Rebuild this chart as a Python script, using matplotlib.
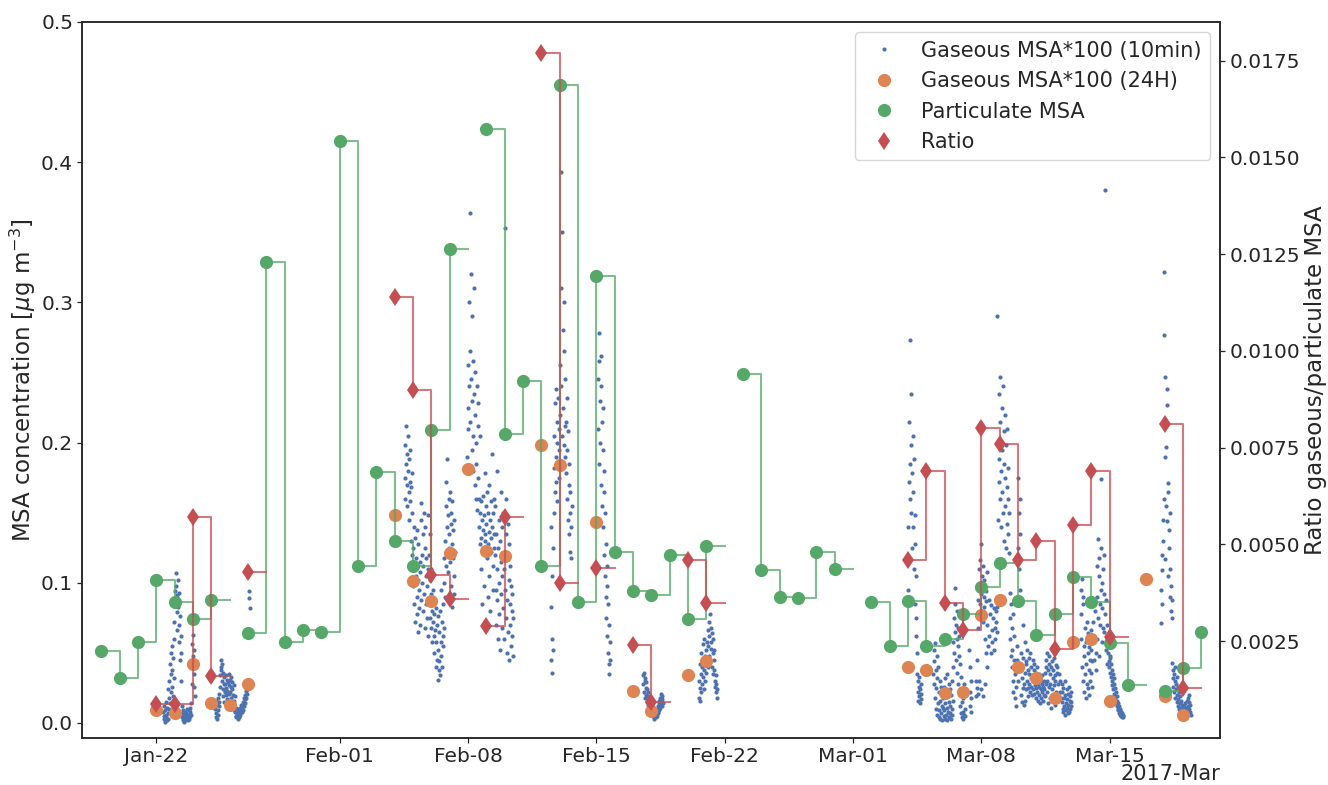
import numpy as np
import pandas as pd
import matplotlib
matplotlib.use('Agg')
import matplotlib.pyplot as plt
import matplotlib.dates as mdates

# seaborn "deep" colours
c_blue = '#4C72B0'
c_orange = '#DD8452'
c_green = '#55A868'
c_red = '#C44E52'
c_text = '#262626'

plt.rcParams.update({
    'font.family': 'DejaVu Sans',
    'font.size': 15,
    'text.color': c_text,
    'axes.labelcolor': c_text,
    'axes.labelsize': 16.5,
    'axes.edgecolor': c_text,
    'axes.linewidth': 1.1,
    'xtick.color': c_text,
    'ytick.color': c_text,
    'xtick.labelsize': 14.5,
    'ytick.labelsize': 14.5,
    'xtick.major.size': 3.3,
    'ytick.major.size': 3.3,
    'xtick.major.pad': 3.0,
    'ytick.major.pad': 3.0,
    'xtick.major.width': 0.9,
    'ytick.major.width': 0.9,
    'legend.fontsize': 15,
})

# ---- daily values, 2017-01-19 .. 2017-03-20 ----
nan = np.nan
days = pd.date_range('2017-01-19', '2017-03-20', freq='D')

particulate_msa = [
    # Jan 19 - Jan 31
    0.051, 0.032, 0.058, 0.102, 0.086, 0.074, 0.088, nan, 0.064, 0.329, 0.058, 0.066, 0.065,
    # Feb 1 - Feb 28
    0.415, 0.112, 0.179, 0.130, 0.112, 0.209, 0.338, nan, 0.424, 0.206, 0.244, 0.112, 0.455, 0.086,
    0.319, 0.122, 0.094, 0.091, 0.120, 0.074, 0.126, nan, 0.249, 0.109, 0.090, 0.089, 0.122, 0.110,
    # Mar 1 - Mar 20
    nan, 0.086, 0.055, 0.087, 0.055, 0.060, 0.078, 0.097, 0.114, 0.087, 0.063, 0.078, 0.104, 0.086,
    0.057, 0.027, nan, 0.023, 0.039, 0.065,
]

gaseous_24h = [
    nan, nan, nan, 0.0093, 0.0073, 0.042, 0.0145, 0.0126, 0.0276, nan, nan, nan, nan,
    nan, nan, nan, 0.148, 0.101, 0.087, 0.1215, 0.181, 0.123, 0.119, nan, 0.198, 0.184, nan,
    0.143, nan, 0.023, 0.0087, nan, 0.034, 0.044, nan, nan, nan, nan, nan, nan, nan,
    nan, nan, nan, 0.040, 0.038, 0.0216, 0.022, 0.077, 0.0875, 0.040, 0.032, 0.018, 0.058, 0.060,
    0.0155, nan, 0.103, 0.019, 0.006, nan,
]

ratio = [
    nan, nan, nan, 0.00088, 0.00088, 0.0057, 0.0016, nan, 0.0043, nan, nan, nan, nan,
    nan, nan, nan, 0.0114, 0.0090, 0.0042, 0.0036, nan, 0.0029, 0.0057, nan, 0.0177, 0.0040, nan,
    0.0044, nan, 0.0024, 0.00092, nan, 0.0046, 0.0035, nan, nan, nan, nan, nan, nan, nan,
    nan, nan, nan, 0.0046, 0.0069, 0.0035, 0.0028, 0.0080, 0.0076, 0.0046, 0.0051, 0.0023, 0.0055, 0.0069,
    0.0026, nan, nan, 0.0081, 0.0013, nan,
]

# ---- gaseous MSA*100, 30-min values per measurement period ----
gas_jan22 = [
    0.008, 0.003, 0.012, 0.005, 0.001, 0.009, 0.004, 0.015, 0.006, 0.002, 0.011, 0.007, 0.024, 0.003, 0.018, 0.010,
    0.030, 0.014, 0.042, 0.022, 0.035, 0.050, 0.026, 0.038, 0.055, 0.019, 0.046, 0.032,
    0.060, 0.072, 0.085, 0.094, 0.107, 0.098, 0.088, 0.079, 0.091, 0.066,
    0.102, 0.083, 0.070, 0.093, 0.058, 0.076, 0.045, 0.062, 0.030, 0.050,
    0.012, 0.004, 0.007, 0.002, 0.009, 0.003, 0.006, 0.001, 0.005, 0.008, 0.002, 0.004, 0.007,
    0.003, 0.010, 0.005, 0.002, 0.006, 0.004, 0.009, 0.003, 0.011, 0.005, 0.008, 0.014, 0.006,
    0.028, 0.041, 0.056, 0.063, 0.048, 0.035, 0.052, 0.026, 0.019,
]
gas_jan25 = [
    0.010, 0.004, 0.016, 0.007, 0.013, 0.003, 0.009, 0.018, 0.006, 0.012, 0.021, 0.015,
    0.026, 0.034, 0.040, 0.045, 0.038, 0.030, 0.042, 0.024, 0.036, 0.019, 0.033, 0.028, 0.015, 0.022,
    0.028, 0.020, 0.034, 0.025, 0.017, 0.031, 0.023, 0.013, 0.029, 0.035, 0.021, 0.027,
    0.022, 0.031, 0.018, 0.026, 0.033, 0.014, 0.024, 0.029, 0.011, 0.020, 0.016, 0.027, 0.009, 0.019,
    0.008, 0.005, 0.011, 0.004, 0.007, 0.010, 0.006, 0.003, 0.009, 0.005, 0.008, 0.004,
    0.007, 0.011, 0.006, 0.009, 0.013, 0.008, 0.012, 0.010, 0.015, 0.009, 0.014,
    0.018, 0.012, 0.017, 0.020, 0.014, 0.023, 0.018, 0.026, 0.021, 0.028, 0.024,
    0.030, 0.027, 0.094, 0.089, 0.082,
]
gas_feb04 = [
    0.175, 0.198, 0.160, 0.212, 0.185, 0.170, 0.192, 0.155, 0.205, 0.180, 0.165,
    0.188, 0.145, 0.172, 0.158, 0.195, 0.130, 0.168, 0.150, 0.120, 0.178, 0.109,
    0.125, 0.098, 0.140, 0.085, 0.112, 0.132, 0.072, 0.105, 0.118, 0.090, 0.138, 0.078,
    0.102, 0.065, 0.128, 0.095, 0.082, 0.115, 0.070, 0.108, 0.145, 0.088, 0.157, 0.120,
    0.100, 0.135, 0.080, 0.112, 0.150, 0.092, 0.125, 0.068, 0.140, 0.105, 0.085, 0.118,
    0.075, 0.098, 0.062, 0.110,
    0.148, 0.120, 0.088, 0.135, 0.075, 0.102, 0.068, 0.092, 0.110, 0.080, 0.058, 0.085,
    0.072, 0.095, 0.062, 0.078, 0.050, 0.088, 0.066, 0.040, 0.082, 0.058, 0.070, 0.045, 0.076, 0.031,
    0.052, 0.038, 0.065, 0.044, 0.080, 0.034, 0.058, 0.095, 0.048,
    0.072, 0.040, 0.062, 0.085, 0.055, 0.100, 0.068, 0.118, 0.090,
    0.130, 0.155, 0.112, 0.172, 0.140, 0.120, 0.188, 0.148, 0.108, 0.160, 0.135, 0.125,
    0.165, 0.115, 0.150, 0.098, 0.142, 0.128, 0.083, 0.158, 0.118, 0.138, 0.105, 0.145, 0.092, 0.122,
]
gas_feb08 = [
    0.190, 0.225, 0.255, 0.210, 0.300, 0.240, 0.364, 0.265, 0.215, 0.320, 0.245, 0.195,
    0.290, 0.230, 0.180, 0.258, 0.205, 0.310, 0.235, 0.170, 0.250, 0.220, 0.160, 0.200,
    0.185, 0.240, 0.152, 0.212, 0.175, 0.228,
    0.140, 0.160, 0.128, 0.205, 0.150, 0.132, 0.110, 0.158, 0.145, 0.085, 0.138, 0.162,
    0.125, 0.098, 0.148, 0.135, 0.178, 0.130, 0.072, 0.155, 0.142, 0.118, 0.165, 0.128,
    0.090, 0.150, 0.136, 0.105, 0.170, 0.145, 0.080, 0.132, 0.158, 0.122, 0.192, 0.140,
    0.112, 0.150, 0.095, 0.135, 0.125, 0.160,
    0.120, 0.155, 0.095, 0.135, 0.070, 0.110, 0.180, 0.088, 0.125, 0.060, 0.145, 0.100,
    0.078, 0.130, 0.052, 0.115, 0.165, 0.092, 0.140, 0.068, 0.105, 0.150, 0.082, 0.120,
    0.060, 0.110, 0.353, 0.095, 0.135, 0.075, 0.160, 0.050, 0.118, 0.088, 0.142, 0.065,
    0.102, 0.128, 0.045, 0.085, 0.112, 0.070, 0.098, 0.055, 0.080, 0.062, 0.092, 0.048, 0.075,
]
gas_feb12 = [
    0.045, 0.140, 0.083, 0.060, 0.036, 0.105, 0.052, 0.125,
    0.150, 0.182, 0.205, 0.165, 0.228, 0.190, 0.172, 0.238, 0.200, 0.158, 0.215, 0.185, 0.232, 0.175, 0.210, 0.195,
    0.255, 0.220, 0.310, 0.393, 0.240, 0.205, 0.350, 0.185, 0.280, 0.225, 0.300, 0.198, 0.265, 0.212, 0.245, 0.190,
    0.215, 0.178, 0.232, 0.160, 0.195, 0.145, 0.208, 0.170, 0.135, 0.185, 0.150, 0.122, 0.165, 0.140, 0.118, 0.155,
]
gas_feb15 = [
    0.210, 0.245, 0.278, 0.185, 0.258, 0.230, 0.200, 0.262, 0.170, 0.240, 0.215, 0.155,
    0.195, 0.140, 0.225, 0.165, 0.120, 0.180, 0.105, 0.150, 0.090, 0.128, 0.075, 0.112,
    0.062, 0.098, 0.050, 0.085, 0.042, 0.070, 0.035, 0.058, 0.045,
]
gas_feb17 = [
    0.028, 0.034, 0.022, 0.036, 0.030, 0.018, 0.032, 0.025, 0.020, 0.029, 0.015, 0.024,
    0.019, 0.013, 0.022, 0.016, 0.011, 0.018, 0.012, 0.009, 0.015, 0.010, 0.007, 0.013,
    0.008, 0.005, 0.011, 0.006, 0.004, 0.009, 0.003, 0.007, 0.005, 0.008, 0.004, 0.006,
    0.010, 0.005, 0.008, 0.012, 0.007, 0.014, 0.009, 0.016, 0.011, 0.018, 0.013, 0.021,
    0.015, 0.019, 0.012, 0.017, 0.014,
]
gas_feb20 = [
    0.030, 0.018, 0.042, 0.025, 0.016, 0.035, 0.050, 0.022, 0.040, 0.028, 0.056, 0.033,
    0.045, 0.024, 0.060, 0.038, 0.048, 0.030, 0.052, 0.042, 0.036, 0.058, 0.046, 0.066,
    0.040, 0.055, 0.072, 0.048, 0.062, 0.078, 0.044, 0.068, 0.053, 0.058, 0.040, 0.064,
    0.050, 0.035, 0.060, 0.045, 0.038, 0.052, 0.030, 0.026, 0.034, 0.022, 0.028, 0.018, 0.024,
]
gas_mar04 = [
    0.095, 0.140, 0.172, 0.215, 0.185, 0.273, 0.160, 0.198, 0.235, 0.150, 0.178, 0.125,
    0.205, 0.140, 0.165, 0.110, 0.188, 0.128, 0.085, 0.148, 0.062, 0.105, 0.075, 0.050,
    0.035, 0.022, 0.030, 0.016, 0.026, 0.019, 0.033, 0.014, 0.024, 0.028, 0.017, 0.021,
]
gas_mar05 = [
    # Mar 5 09:00
    0.035, 0.052, 0.028, 0.044, 0.018, 0.057, 0.038, 0.010, 0.025, 0.048, 0.006, 0.032,
    0.014, 0.040, 0.004, 0.022, 0.009, 0.030, 0.003, 0.016, 0.026, 0.007, 0.012, 0.020, 0.002, 0.011,
    # Mar 5 22:00
    0.018, 0.005, 0.026, 0.009, 0.032, 0.003, 0.014, 0.022, 0.006, 0.035, 0.011, 0.002,
    0.019, 0.008, 0.028, 0.004, 0.015, 0.024, 0.007, 0.012, 0.003, 0.020, 0.010, 0.030, 0.006, 0.016,
    # Mar 6 11:00
    0.040, 0.058, 0.075, 0.050, 0.096, 0.065, 0.085, 0.045, 0.070, 0.060, 0.080, 0.036,
    0.055, 0.068, 0.028, 0.048, 0.062, 0.020, 0.042, 0.012, 0.033, 0.007,
    # Mar 6 22:00
    0.015, 0.004, 0.022, 0.008, 0.003, 0.018, 0.006, 0.028, 0.010, 0.005,
    # Mar 7 03:00
    nan, nan, nan, nan, nan, nan, nan, nan, nan, nan, 0.052, 0.012,
    0.040, 0.022, 0.030, 0.008, 0.018, nan, nan, nan, nan, nan, nan, nan,
    nan, nan, nan, nan, 0.019, 0.030,
    # Mar 7 18:00
    0.045, 0.025, 0.068, 0.088, 0.021, 0.095, 0.110, 0.030, 0.085, 0.116, 0.128, 0.092,
    0.024, 0.105, 0.098, 0.072, 0.112, 0.019, 0.090, 0.083, 0.102, 0.060, 0.028, 0.094,
    0.087, 0.050, 0.108, 0.040,
    # Mar 8 08:00
    0.070, nan, 0.055, 0.088, nan, 0.062, nan, 0.078, 0.050, nan, 0.084, 0.066,
    nan, 0.058, 0.075, nan, 0.082, 0.052, nan, 0.068, 0.060, nan, 0.080, 0.072,
    # Mar 8 20:00
    0.083, 0.065, 0.290, 0.145, 0.200, 0.172, 0.235, 0.188, 0.247, 0.160, 0.215, 0.180,
    0.140, 0.225, 0.195, 0.165, 0.240, 0.150, 0.208, 0.130, 0.185, 0.220, 0.175, 0.155,
    0.198, 0.125, 0.168, 0.210, 0.142, 0.182, 0.135, 0.160, 0.121, 0.150,
    # Mar 9 13:00
    0.093, 0.060, 0.075, 0.048, 0.085, 0.052, 0.068, 0.040, 0.030, 0.078, 0.022, 0.045,
    0.062, 0.018, 0.035, 0.088, 0.012, 0.042, 0.026, 0.055, 0.045, 0.030, 0.125, 0.175,
    0.150, 0.110, 0.135, 0.095, 0.160, 0.038, 0.020, 0.050, 0.015, 0.032, 0.070, 0.025,
    0.046, 0.013, 0.028, 0.058, 0.036, 0.016, 0.044, 0.024,
    # Mar 10 11:00
    0.042, 0.030, 0.052, 0.025, 0.038, 0.019, 0.046, 0.028, 0.035, 0.022, 0.050, 0.032,
    0.026, 0.040, 0.020, 0.034, 0.045, 0.024, 0.030, 0.038, 0.021, 0.042, 0.027, 0.033,
    0.018, 0.036, 0.025, 0.040, 0.022, 0.030, 0.016, 0.028, 0.035, 0.020, 0.026, 0.032,
    0.014, 0.024, 0.030, 0.018, 0.028, 0.022, 0.034, 0.016, 0.026, 0.020, 0.030, 0.024,
    0.036, 0.019, 0.040, 0.028,
    # Mar 11 13:00
    0.045, 0.030, 0.050, 0.022, 0.038, 0.014, 0.042, 0.026, 0.048, 0.018, 0.035, 0.028,
    0.011, 0.040, 0.024, 0.044, 0.016, 0.032, 0.038, 0.020, 0.046, 0.027, 0.034, 0.013,
    0.030, 0.041, 0.022, 0.036,
    # Mar 12 03:00
    0.040, nan, 0.028, nan, 0.076, nan, 0.035, nan, 0.022, 0.030, nan, 0.018,
    # Mar 12 09:00
    0.028, 0.015, 0.022, 0.010, 0.025, 0.008, 0.018, 0.012, 0.030, 0.006, 0.020, 0.014,
    0.009, 0.024, 0.011, 0.017, 0.007, 0.021, 0.013, 0.026, 0.008, 0.016, 0.010, 0.019,
    0.012, 0.022, 0.015,
]
gas_mar13 = [
    0.060, 0.095, 0.078, 0.040, 0.103, 0.085, 0.030, 0.090, 0.055, 0.022, 0.048, 0.068,
    0.035, 0.018, 0.058, 0.042, 0.028, 0.072, 0.050, 0.025, 0.064, 0.038, 0.020, 0.054,
    0.045, 0.030, 0.066, 0.036, 0.052, 0.026, 0.044, 0.060,
    0.072, nan, 0.045, nan, 0.062, nan, 0.080, nan, 0.050, 0.038,
    0.090, 0.060, 0.112, 0.131, 0.075, 0.105, 0.048, 0.118, 0.085, 0.070, 0.125, 0.095,
    0.174, 0.058, 0.100, 0.082, 0.110, 0.068, 0.092, 0.065, 0.120, 0.380, 0.078, 0.466,
    0.052, 0.088, 0.042, 0.070,
    0.062, 0.050, 0.058, 0.044, 0.055, 0.040, 0.048, 0.036, 0.046, 0.033, 0.042, 0.030,
    0.038, 0.027, 0.035, 0.024, 0.032, 0.021, 0.028, 0.018, 0.025, 0.016, 0.022, 0.014,
    0.019, 0.012, 0.016, 0.010, 0.014, 0.009, 0.012, 0.007, 0.010, 0.006, 0.009, 0.005,
    0.008, 0.004, 0.007, 0.005, 0.006, 0.004, 0.005,
]
gas_mar17 = [
    0.071, 0.095, 0.085, 0.120, 0.109, 0.145, 0.130, 0.322, 0.160, 0.277, 0.117, 0.190,
    0.247, 0.155, 0.197, 0.238, 0.144, 0.227, 0.171, 0.105, 0.165, 0.138, 0.125, 0.150,
    0.090, 0.110, 0.080, 0.098, 0.075, 0.088,
    0.043, 0.032, 0.038, 0.026, 0.035, 0.022, 0.030, 0.040, 0.018, 0.028, 0.024, 0.015,
    0.033, 0.020, 0.012, 0.026, 0.017, 0.010, 0.022, 0.014, 0.008, 0.019, 0.011, 0.006,
    0.016, 0.009, 0.013, 0.005, 0.010, 0.007, 0.012, 0.004, 0.009, 0.006, 0.014, 0.008,
    0.011, 0.005, 0.016, 0.009, 0.018, 0.007, 0.012, 0.020, 0.010, 0.015, 0.008, 0.013, 0.006,
]

gas_periods = [
    ('2017-01-22 09:00', gas_jan22),
    ('2017-01-25 05:00', gas_jan25),
    ('2017-02-04 13:00', gas_feb04),
    ('2017-02-07 23:00', gas_feb08),
    ('2017-02-12 12:00', gas_feb12),
    ('2017-02-15 02:00', gas_feb15),
    ('2017-02-17 13:00', gas_feb17),
    ('2017-02-20 14:00', gas_feb20),
    ('2017-03-04 00:00', gas_mar04),
    ('2017-03-05 09:00', gas_mar05),
    ('2017-03-13 10:00', gas_mar13),
    ('2017-03-17 19:00', gas_mar17),
]

gas_times = []
gas_values = []
for start, vals in gas_periods:
    gas_times.extend(pd.date_range(start, periods=len(vals), freq='30min'))
    gas_values.extend(vals)

tick_dates = pd.to_datetime(['2017-01-22', '2017-02-01', '2017-02-08', '2017-02-15',
                             '2017-02-22', '2017-03-01', '2017-03-08', '2017-03-15'])

fig = plt.figure(figsize=(13.28, 7.85), dpi=100)
ax = fig.add_axes([0.0617, 0.0599, 0.8573, 0.9121])
ax2 = ax.twinx()

ax.plot(gas_times, gas_values, linestyle='none', marker='o', ms=3.0, mew=0,
        color=c_blue, label='Gaseous MSA*100 (10min)')
ax.plot(days, gaseous_24h, linestyle='none', marker='o', ms=9.5, mew=0,
        color=c_orange, label='Gaseous MSA*100 (24H)')
ax.plot(days, particulate_msa, drawstyle='steps-post', color=c_green, lw=1.5, alpha=0.75)
ax.plot(days, particulate_msa, linestyle='none', marker='o', ms=9.5, mew=0,
        color=c_green, label='Particulate MSA')

ax2.plot(days, ratio, drawstyle='steps-post', color=c_red, lw=1.5, alpha=0.75)
ax2.plot(days, ratio, linestyle='none', marker='d', ms=9.5, mew=0,
         color=c_red, label='Ratio')

ax.set_xlim(pd.Timestamp('2017-01-17 22:26'), pd.Timestamp('2017-03-21 01:00'))
ax.set_ylim(-0.0107, 0.5)
ax2.set_ylim(0.0, 0.0185)

ax.set_xticks(tick_dates)
ax.xaxis.set_major_formatter(mdates.DateFormatter('%b-%d'))
ax.set_yticks([0.0, 0.1, 0.2, 0.3, 0.4, 0.5])
ax2.set_yticks([0.0025, 0.005, 0.0075, 0.01, 0.0125, 0.015, 0.0175])
ax2.yaxis.set_major_formatter(plt.FormatStrFormatter('%.4f'))

ax.set_ylabel('MSA concentration [$\\mu$g m$^{-3}$]', labelpad=2)
ax2.set_ylabel('Ratio gaseous/particulate MSA', labelpad=3)
ax.text(1.0, -0.037, '2017-Mar', transform=ax.transAxes, ha='right', va='top', fontsize=15)

h1, l1 = ax.get_legend_handles_labels()
h2, l2 = ax2.get_legend_handles_labels()
ax2.legend(h1 + h2, l1 + l2, loc='upper right')

fig.savefig('out.png', dpi=100)
